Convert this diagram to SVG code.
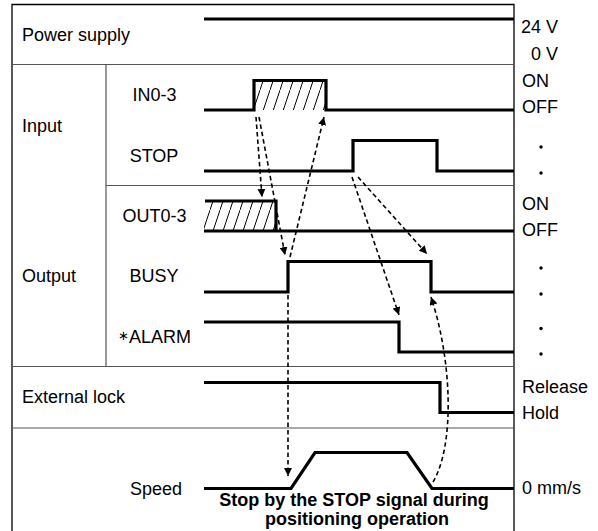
<svg xmlns="http://www.w3.org/2000/svg" width="598" height="531" viewBox="0 0 598 531">
<defs>
<style>
text{font-family:"Liberation Sans",Arial,sans-serif;font-size:18px;fill:#000}
.b{font-weight:bold}
.grid{stroke:#555;stroke-width:1.2;fill:none}
.frame{stroke:#000;stroke-width:1.3;fill:none}
.sig{stroke:#000;stroke-width:3.2;fill:none;stroke-linejoin:miter;stroke-linecap:butt}
.dash{stroke:#000;stroke-width:1.6;fill:none;stroke-dasharray:4.5 3}
.dot{fill:#000}
</style>
<pattern id="hatch" patternUnits="userSpaceOnUse" x="0" y="0" width="10" height="30">
<line x1="0" y1="30" x2="10" y2="0" stroke="#000" stroke-width="1"/>
</pattern>
<marker id="ah" viewBox="0 0 10 10" refX="10" refY="5" markerWidth="8" markerHeight="8" markerUnits="userSpaceOnUse" orient="auto">
<path d="M0,0 L10,5 L0,10 z" fill="#000"/>
</marker>
</defs>
<rect width="598" height="531" fill="#fff"/>
<g id="frame">
<path class="frame" d="M12,531 V4.5 H514 V531"/>
<line class="grid" x1="12" y1="64.5" x2="514" y2="64.5"/>
<line class="grid" x1="106" y1="185.5" x2="514" y2="185.5"/>
<line class="grid" x1="12" y1="366.5" x2="514" y2="366.5"/>
<line class="grid" x1="12" y1="428" x2="514" y2="428"/>
<line class="grid" x1="106" y1="64.5" x2="106" y2="366.5"/>
</g>
<g id="power-supply">
<text x="22" y="41">Power supply</text>
<line class="sig" x1="204" y1="19" x2="514" y2="19"/>
<text x="558" y="33" text-anchor="end">24 V</text>
<text x="558" y="60" text-anchor="end">0 V</text>
</g>
<g id="input">
<text x="22" y="132">Input</text>
</g>
<g id="in0-3">
<text x="154.5" y="101" text-anchor="middle">IN0-3</text>
<rect x="254" y="80" width="72" height="30" fill="url(#hatch)"/>
<path class="sig" d="M204,110 H254 V80.5 H326 V110 H514"/>
<text x="522" y="87">ON</text>
<text x="522" y="113">OFF</text>
</g>
<g id="stop">
<text x="154" y="162" text-anchor="middle">STOP</text>
<path class="sig" d="M204,171 H353 V140.5 H437 V171 H514"/>
<circle class="dot" cx="541" cy="147" r="1.7"/>
<circle class="dot" cx="541" cy="173" r="1.7"/>
</g>
<g id="output">
<text x="22" y="282">Output</text>
</g>
<g id="out0-3">
<text x="154.5" y="222" text-anchor="middle">OUT0-3</text>
<rect x="204" y="201" width="72" height="30" fill="url(#hatch)"/>
<path class="sig" d="M205,201 H276 V231"/>
<line class="sig" x1="204" y1="231" x2="514" y2="231"/>
<text x="522" y="210">ON</text>
<text x="522" y="236">OFF</text>
</g>
<g id="busy">
<text x="154" y="282" text-anchor="middle">BUSY</text>
<path class="sig" d="M204,292 H288 V261.5 H431 V292 H514"/>
<circle class="dot" cx="541" cy="268" r="1.7"/>
<circle class="dot" cx="541" cy="294" r="1.7"/>
</g>
<g id="alarm">
<text x="154.5" y="343" text-anchor="middle"><tspan font-size="13" dy="-3">∗</tspan><tspan dy="3">ALARM</tspan></text>
<path class="sig" d="M204,322 H399 V352 H514"/>
<circle class="dot" cx="541" cy="328.5" r="1.7"/>
<circle class="dot" cx="541" cy="354" r="1.7"/>
</g>
<g id="external-lock">
<text x="22" y="403">External lock</text>
<path class="sig" d="M204,382.5 H440 V412.5 H514"/>
<text x="522" y="393">Release</text>
<text x="522" y="419">Hold</text>
</g>
<g id="speed">
<text x="182" y="495" text-anchor="end">Speed</text>
<path class="sig" d="M204,488.5 H291 L315,452.5 H407 L432,488.5 H514"/>
<text x="522" y="494">0 mm/s</text>
<text class="b" x="354" y="506" text-anchor="middle">Stop by the STOP signal during</text>
<text class="b" x="357" y="525" text-anchor="middle">positioning operation</text>
</g>
<g id="connectors">
<line class="dash" x1="256" y1="117" x2="262" y2="197" marker-end="url(#ah)"/>
<line class="dash" x1="259" y1="117" x2="285" y2="255" marker-end="url(#ah)"/>
<line class="dash" x1="290" y1="257" x2="324" y2="117" marker-end="url(#ah)"/>
<line class="dash" x1="352" y1="177" x2="399" y2="315" marker-end="url(#ah)"/>
<line class="dash" x1="358" y1="177" x2="427" y2="254" marker-end="url(#ah)"/>
<line class="dash" x1="288" y1="295" x2="288" y2="476" marker-end="url(#ah)"/>
<path class="dash" d="M433,482 C455,445 452,360 431,297" marker-end="url(#ah)"/>
</g>
</svg>
